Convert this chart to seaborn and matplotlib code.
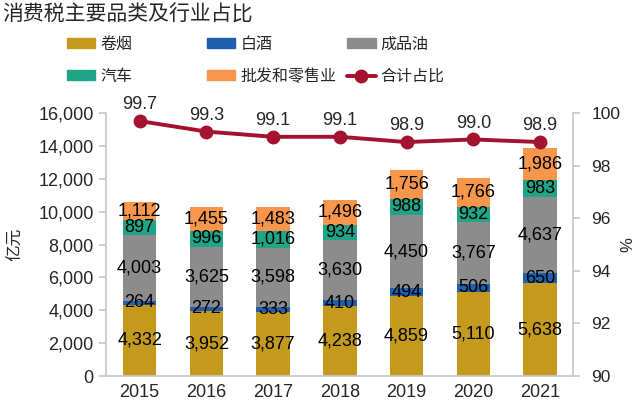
import numpy as np
import pandas as pd
import matplotlib
matplotlib.use("Agg")
import matplotlib.pyplot as plt
import seaborn as sns
from matplotlib.patches import Patch
from matplotlib.lines import Line2D

# data
years = ["2015", "2016", "2017", "2018", "2019", "2020", "2021"]
cigarette = [4332, 3952, 3877, 4238, 4859, 5110, 5638]
liquor = [264, 272, 333, 410, 494, 506, 650]
oil = [4003, 3625, 3598, 3630, 4450, 3767, 4637]
car = [897, 996, 1016, 934, 988, 932, 983]
retail = [1112, 1455, 1483, 1496, 1756, 1766, 1986]
ratio = [99.7, 99.3, 99.1, 99.1, 98.9, 99.0, 98.9]

names = ["卷烟", "白酒", "成品油", "汽车", "批发和零售业"]
colors = ["#C49A1E", "#1F60AE", "#8C8C8C", "#1FA488", "#F8974B"]
line_color = "#A3122F"

sns.set_theme(style="white")
plt.rcParams["font.family"] = ["Liberation Sans", "Noto Sans CJK SC", "DejaVu Sans"]

series = [cigarette, liquor, oil, car, retail]
cum = np.cumsum(np.array(series), axis=0)

fig = plt.figure(figsize=(6.4, 4.07), dpi=100)
ax = fig.add_axes([0.166, 0.076, 0.730, 0.646])

# stacked bars: draw cumulative totals from top layer down
for i in range(len(series) - 1, -1, -1):
    df = pd.DataFrame({"year": years, "val": cum[i]})
    sns.barplot(data=df, x="year", y="val", color=colors[i], width=0.5,
                saturation=1, ax=ax, errorbar=None, linewidth=0)

# segment labels
for i in range(len(series)):
    for j in range(len(years)):
        bottom = cum[i - 1][j] if i > 0 else 0
        mid = bottom + series[i][j] / 2
        ax.text(j, mid, f"{series[i][j]:,}", ha="center", va="center",
                fontsize=13, color="black")

ax.set_ylim(0, 16000)
ax.set_xlim(-0.5, 6.5)
ax.set_yticks(range(0, 16001, 2000))
ax.set_yticklabels([f"{v:,}" for v in range(0, 16001, 2000)], fontsize=13)
ax.set_xlabel("")
ax.set_ylabel("亿元", fontsize=12, family=["Noto Sans CJK SC"], labelpad=10)
ax.tick_params(axis="x", labelsize=13, length=0, pad=6)
ax.tick_params(axis="y", length=5, color="#C8C8C8", pad=4, left=True)
for s in ["top", "right"]:
    ax.spines[s].set_visible(False)
for s in ["left", "bottom"]:
    ax.spines[s].set_color("#C8C8C8")

ax2 = ax.twinx()
sns.lineplot(x=np.arange(len(years)), y=ratio, ax=ax2, color=line_color,
             linewidth=2.8, marker="o", markersize=10, markeredgewidth=0)
for j, v in enumerate(ratio):
    ax2.text(j, v + 0.3, f"{v:.1f}", ha="center", va="bottom", fontsize=13)
ax2.set_ylim(90, 100)
ax2.set_yticks(range(90, 101, 2))
ax2.tick_params(axis="y", labelsize=12.5, length=5, color="#C8C8C8", right=True, pad=8)
ax2.set_ylabel("%", fontsize=12, labelpad=0)
for s in ["top", "left", "bottom"]:
    ax2.spines[s].set_visible(False)
ax2.spines["right"].set_color("#C8C8C8")
ax2.set_xlim(-0.5, 6.5)

fig.text(0.004, 0.963, "消费税主要品类及行业占比", fontsize=15,
         family=["Noto Sans CJK SC"], va="center")

handles = [Patch(color=c) for c in colors]
line_h = Line2D([0], [0], color=line_color, linewidth=2.8, marker="o",
                markersize=10, markeredgewidth=0)
all_h = handles + [line_h]
labels = names + ["合计占比"]

# three legend columns, evenly spaced like the reference
cols = [[0, 3], [1, 4], [2, 5]]
xs = [0.104, 0.323, 0.542]
for col, x in zip(cols, xs):
    fig.legend([all_h[k] for k in col], [labels[k] for k in col],
               loc="upper left", bbox_to_anchor=(x, 0.912), frameon=False,
               prop={"family": "Noto Sans CJK SC", "size": 11.5},
               handlelength=1.8, handleheight=0.6, borderpad=0,
               borderaxespad=0, labelspacing=0.95, handletextpad=0.3)

fig.savefig("out.png", dpi=100)
